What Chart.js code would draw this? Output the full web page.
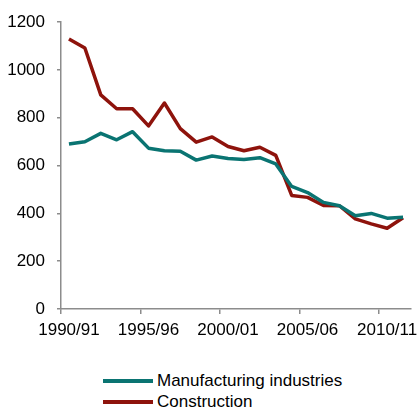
<!DOCTYPE html>
<html>
<head>
<meta charset="utf-8">
<script src="https://cdn.jsdelivr.net/npm/chart.js@4"></script>
<style>
  html, body { margin: 0; padding: 0; background: #fff; }
  #wrap { position: relative; width: 418px; height: 410px; }
  #box { position: absolute; left: 0; top: 0; width: 418px; height: 345px; }
  #legend { position: absolute; left: 103px; top: 370px; font-family: "Liberation Sans", Arial, sans-serif; font-size: 17px; color: #000; }
  .item { display: flex; align-items: center; height: 21px; }
  .swatch { width: 50px; height: 4px; margin-right: 4px; }
</style>
</head>
<body>
<div id="wrap">
  <div id="box"><canvas id="c"></canvas></div>
  <div id="legend"></div>
</div>
<script>
const categories = ["1990/91","1991/92","1992/93","1993/94","1994/95","1995/96","1996/97","1997/98","1998/99","1999/00","2000/01","2001/02","2002/03","2003/04","2004/05","2005/06","2006/07","2007/08","2008/09","2009/10","2010/11","2011/12"];
const manufacturing = [690, 700, 735, 708, 742, 673, 662, 660, 623, 640, 630, 626, 633, 607, 513, 487, 446, 432, 390, 400, 380, 384];
const construction = [1130, 1092, 896, 838, 838, 766, 862, 755, 698, 720, 680, 662, 677, 643, 475, 467, 433, 432, 377, 356, 338, 382];
const seriesNames = ["Manufacturing industries", "Construction"];
const seriesColors = ["#0a7472", "#8e130c"];
const yTicks = [0, 200, 400, 600, 800, 1000, 1200];

const FONT = { family: "'Liberation Sans', Arial, sans-serif", size: 17 };
const AXIS = "#8c8c8c";

const chart = new Chart(document.getElementById('c'), {
  type: 'line',
  data: {
    labels: categories,
    datasets: [
      { label: seriesNames[0], data: manufacturing, borderColor: seriesColors[0], backgroundColor: seriesColors[0], borderWidth: 3.5, pointRadius: 0, tension: 0, borderJoinStyle: 'round' },
      { label: seriesNames[1], data: construction, borderColor: seriesColors[1], backgroundColor: seriesColors[1], borderWidth: 3.5, pointRadius: 0, tension: 0, borderJoinStyle: 'round' }
    ]
  },
  options: {
    responsive: true,
    maintainAspectRatio: false,
    animation: false,
    layout: { padding: { top: 20, right: 7, left: 0, bottom: 0 } },
    plugins: { legend: { display: false }, tooltip: { enabled: false } },
    scales: {
      x: {
        type: 'category',
        offset: true,
        grid: {
          offset: true,
          drawOnChartArea: false,
          drawTicks: true,
          tickLength: 5,
          color: (ctx) => (ctx.index % 5 === 0 ? AXIS : 'rgba(0,0,0,0)'),
          tickColor: (ctx) => (ctx.index % 5 === 0 ? AXIS : 'rgba(0,0,0,0)'),
          lineWidth: 1.5
        },
        border: { display: true, color: AXIS, width: 1.5 },
        ticks: {
          autoSkip: false,
          maxRotation: 0,
          minRotation: 0,
          padding: 6,
          color: '#000',
          font: FONT,
          callback: function(value, index) { return index % 5 === 0 ? categories[index] : ''; }
        },
        afterFit: (s) => { s.height = 36; }
      },
      y: {
        min: 0,
        max: 1200,
        afterBuildTicks: (s) => { s.ticks = yTicks.map(v => ({ value: v })); },
        grid: { drawOnChartArea: false, drawTicks: true, tickLength: 4, color: AXIS, lineWidth: 1.5 },
        border: { display: true, color: AXIS, width: 1.5 },
        ticks: { padding: 12, color: '#000', font: FONT, callback: (v) => String(v) },
        afterFit: (s) => { s.width = 61; }
      }
    }
  }
});

const legend = document.getElementById('legend');
chart.data.datasets.forEach(ds => {
  const it = document.createElement('div');
  it.className = 'item';
  const sw = document.createElement('span');
  sw.className = 'swatch';
  sw.style.background = ds.borderColor;
  const tx = document.createElement('span');
  tx.textContent = ds.label;
  it.appendChild(sw); it.appendChild(tx);
  legend.appendChild(it);
});
</script>
</body>
</html>
